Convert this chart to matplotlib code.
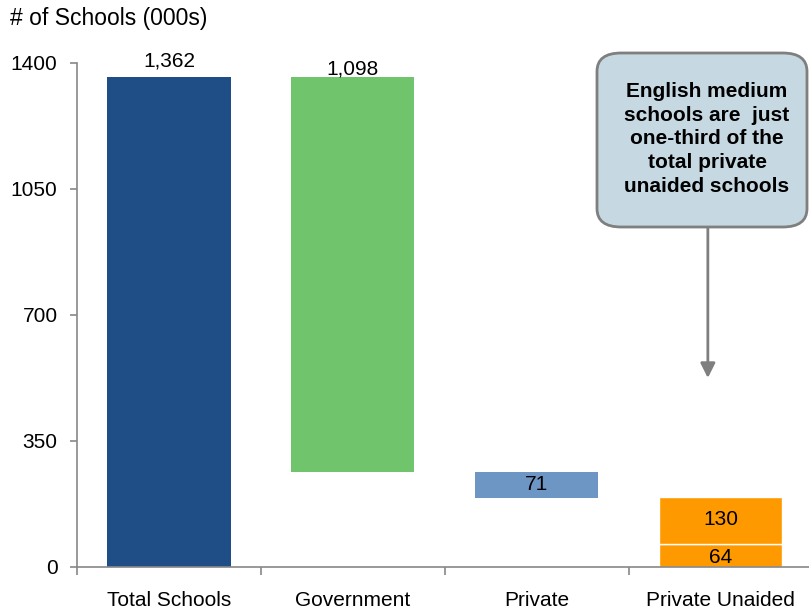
import matplotlib.pyplot as plt
from matplotlib.patches import FancyBboxPatch

plt.rcParams["font.family"] = ["Liberation Sans", "DejaVu Sans"]

categories = ["Total Schools", "Government", "Private", "Private Unaided"]
total = 1362
government = 1098
private = 71
unaided_english = 64
unaided_other = 130

yticks = [0, 350, 700, 1050, 1400]

fig = plt.figure(figsize=(8.09, 6.12), dpi=100)
ax = fig.add_axes([77 / 809, 1 - 567 / 612, 1 - 77 / 809, (567 - 63) / 612])

w = 0.67
# waterfall: each step hangs from the remainder of the previous one
gov_base = total - government
priv_base = gov_base - private
ax.bar(0, total, w, color="#1F4E87")
ax.bar(1, government, w, bottom=gov_base, color="#70C46C")
ax.bar(2, private, w, bottom=priv_base, color="#6E96C5")
ax.bar(3, unaided_english, w, color="#FF9900", edgecolor="white", linewidth=1)
ax.bar(3, unaided_other, w, bottom=unaided_english, color="#FF9900",
       edgecolor="white", linewidth=1)

fs = 15
ax.text(0, total + 16, f"{total:,}", ha="center", va="bottom", fontsize=fs)
ax.text(1, total + 22, f"{government:,}", ha="center", va="center", fontsize=fs)
ax.text(2, priv_base + private / 2, f"{private}", ha="center", va="center", fontsize=fs)
ax.text(3, unaided_english / 2 - 6, f"{unaided_english}", ha="center", va="center", fontsize=fs)
ax.text(3, unaided_english + unaided_other / 2 + 4, f"{unaided_other}",
        ha="center", va="center", fontsize=fs)

ax.set_xlim(-0.5, 3.48)
ax.set_ylim(0, 1400)
ax.set_yticks(yticks)
ax.set_xticks(range(len(categories)))
ax.set_xticklabels(categories)
ax.set_xticks([-0.5, 0.5, 1.5, 2.5], minor=True)

for side in ["top", "right"]:
    ax.spines[side].set_visible(False)
for side in ["left", "bottom"]:
    ax.spines[side].set_color("#888888")
    ax.spines[side].set_linewidth(1.2)

ax.tick_params(axis="y", length=5, width=1.2, color="#888888", pad=9, labelsize=fs)
ax.tick_params(axis="x", which="major", length=0, pad=17, labelsize=fs)
ax.tick_params(axis="x", which="minor", length=6, width=1.2, color="#888888")

fig.text(10 / 809, 1 - 18 / 612, "# of Schools (000s)", fontsize=16.5,
         ha="left", va="center")

# callout
box = FancyBboxPatch((597 / 809, 1 - 227 / 612), 210 / 809, 174 / 612,
                     boxstyle="round,pad=0,rounding_size=0.03",
                     transform=fig.transFigure, facecolor="#C6D9E2",
                     edgecolor="#7F7F7F", linewidth=2, clip_on=False)
fig.patches.append(box)
fig.text(707 / 809, 1 - 139 / 612,
         "English medium\nschools are  just\none-third of the\ntotal private\nunaided schools",
         ha="center", va="center", fontsize=15, fontweight="bold",
         linespacing=1.33)
ax.annotate("", xy=(2.93, 525), xytext=(2.93, 948),
            arrowprops=dict(arrowstyle="-|>", color="#7F7F7F", lw=2,
                            mutation_scale=22, shrinkA=0, shrinkB=0),
            annotation_clip=False)

fig.savefig("out.png", dpi=100)
